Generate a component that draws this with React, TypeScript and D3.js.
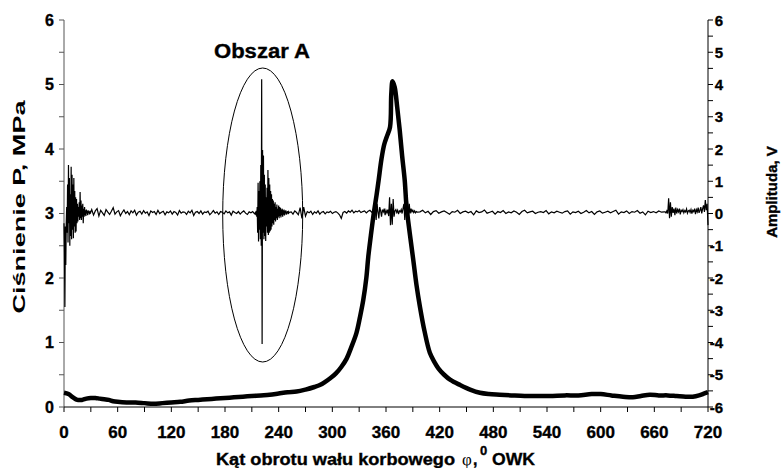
import React from 'react';
import * as d3 from 'd3';

// ---------- data ----------
const xTickLabels = [0, 60, 120, 180, 240, 300, 360, 420, 480, 540, 600, 660, 720];
const leftTickLabels = [0, 1, 2, 3, 4, 5, 6];
const rightTickLabels = [-6, -5, -4, -3, -2, -1, 0, 1, 2, 3, 4, 5, 6];

// Pressure curve (MPa) vs crank angle
const pAngles = [0, 5, 10, 15, 20, 25, 30, 35, 40, 45, 50, 55, 60, 70, 80, 90, 100, 110, 120, 130, 140, 150, 160, 170, 180, 190, 200, 210, 220, 230, 240, 250, 260, 270, 280, 286, 292, 298, 304, 310, 316, 321, 327, 331, 334.6, 338, 340.2, 343, 345.8, 349.6, 351.8, 355, 358, 361.1, 364.5, 365.9, 367.3, 369.7, 372.5, 375.3, 378, 380.9, 383, 386.5, 390.5, 394, 398, 403, 409, 414, 418.5, 425, 432, 443, 454, 465, 475, 487, 500, 515, 530, 543, 560, 575, 590, 600, 612, 625, 636, 645, 655, 665, 675, 685, 695, 703, 710, 716, 720];
const pValues = [0.22, 0.2, 0.15, 0.11, 0.11, 0.13, 0.14, 0.14, 0.13, 0.12, 0.11, 0.09, 0.08, 0.07, 0.07, 0.06, 0.05, 0.06, 0.07, 0.08, 0.1, 0.11, 0.12, 0.13, 0.14, 0.15, 0.16, 0.17, 0.18, 0.19, 0.21, 0.23, 0.24, 0.27, 0.31, 0.34, 0.39, 0.45, 0.52, 0.62, 0.75, 0.92, 1.15, 1.4, 1.66, 2.0, 2.33, 2.65, 2.95, 3.3, 3.52, 3.85, 4.07, 4.2, 4.34, 4.85, 5.05, 4.96, 4.65, 4.3, 3.9, 3.52, 3.1, 2.7, 2.28, 1.9, 1.55, 1.18, 0.84, 0.7, 0.6, 0.5, 0.42, 0.34, 0.27, 0.22, 0.2, 0.19, 0.18, 0.17, 0.17, 0.17, 0.18, 0.18, 0.2, 0.2, 0.18, 0.16, 0.15, 0.17, 0.19, 0.18, 0.18, 0.17, 0.16, 0.16, 0.18, 0.21, 0.23];

// Vibration amplitude (V), given as segments: [start angle, step, values]
const ampSeg0Start = 0, ampSeg0Step = 0.5;
const ampSeg0 = [-0.3, -1.2, -2.9, -0.4, -1.6, -0.3, 0.2, -0.6, 0.9, -0.9, 1.5, -0.3, 1.1, -1.0, 0.6, -0.7, 1.45, -0.8, 1.2, -0.5, 0.9, -0.77, 1.1, -0.4, 0.7, -0.6, 0.5, -0.56, 0.45, -0.3, 0.3, -0.25, 0.2, -0.1, 0.35, -0.2, 0.67, -0.15, 0.4, -0.2, 0.25, -0.1, 0.3, -0.3, 0.15, -0.1, 0.2, -0.05, 0.1, -0.08, 0.12, 0.0, 0.08, -0.05, 0.1, 0.02, 0.06, -0.03, 0.08, 0.0, 0.05];

const ampSeg1Start = 31, ampSeg1Step = 2;
const ampSeg1 = [0.12, -0.05, 0.08, 0.15, -0.08, 0.1, 0.02, -0.06, 0.12, 0.04,
  -0.03, 0.07, 0.18, -0.02, 0.05, 0.09, -0.07, 0.03, 0.11, 0.0,
  0.06, -0.04, 0.08, 0.02, 0.1, -0.05, 0.04, 0.07, -0.02, 0.09,
  0.01, 0.05, -0.06, 0.08, 0.03, 0.06, -0.03, 0.1, 0.0, 0.04,
  0.07, -0.04, 0.05, 0.02, 0.08, -0.02, 0.06, 0.03, -0.05, 0.09,
  0.01, 0.05, 0.04, -0.03, 0.07, 0.02, 0.1, -0.06, 0.04, 0.06,
  0.0, 0.08, -0.02, 0.05, 0.03, 0.07, -0.04, 0.02, 0.09, 0.01,
  0.05, -0.03, 0.06, 0.04, -0.01, 0.08, 0.02, 0.05, -0.05, 0.07,
  0.03, 0.0, 0.06, -0.02, 0.04, 0.08, 0.01, -0.03, 0.05, 0.02,
  0.06, -0.01];

const ampSeg2Start = 214, ampSeg2Step = 0.5;
const ampSeg2 = [0.03, -0.05, 0.08, -0.1, 0.2, -0.6, 0.95, -0.87, 0.7, -0.5,
  1.0, -0.8, 1.5, -1.0, 4.16, -4.05, 1.97, -0.6, 1.8, -0.8,
  1.2, -0.7, 0.9, -0.85, 0.5, -0.4, 0.8, -0.6, 1.35, -0.67,
  1.1, -0.6, 0.9, -0.55, 0.7, -0.5, 0.6, -0.4, 0.45, -0.3,
  0.4, -0.35, 0.3, -0.2, 0.35, -0.25, 0.2, -0.15, 0.28, -0.2,
  0.15, -0.1, 0.25, -0.15, 0.2, -0.08, 0.18, -0.12, 0.12, -0.05,
  0.15, -0.1, 0.1, -0.04, 0.12, -0.06, 0.08, 0.0, 0.1, -0.04,
  0.06, 0.01, 0.07, -0.02, 0.05, 0.02, 0.04];

const ampSeg3Start = 254, ampSeg3Step = 2;
const ampSeg3 = [0.05, -0.02, 0.08, 0.03, -0.04, 0.18, -0.15, 0.2, -0.08, 0.06,
  0.02, 0.07, -0.03, 0.05, 0.01, 0.08, -0.02, 0.04, 0.06, -0.01,
  0.05, 0.03, 0.07, 0.0, 0.04, 0.06, 0.02, -0.04, -0.15, 0.03,
  0.06, 0.01, 0.08, 0.04, 0.1, 0.02, 0.07, 0.05, 0.09, 0.03,
  0.06, 0.08, 0.02, 0.07, 0.1, 0.04];

const ampSeg4Start = 345, ampSeg4Step = 1;
const ampSeg4 = [0.06, 0.12, -0.05, 0.25, -0.2, 0.3, 0.05, -0.15, 0.2, 0.08,
  -0.1, 0.12, 0.05, 0.15, -0.05, 0.1, 0.02, 0.12, -0.08, 0.5,
  -0.36, 0.3, -0.35, 0.45, -0.1, 0.08, 0.12, 0.03, 0.1, -0.02,
  0.08, 0.05, 0.12, 0.0, 0.15, 0.3, -0.2, 0.47, -0.15, 0.4,
  -0.18, 0.3, 0.0, 0.15, 0.05, 0.1, 0.03, 0.08, 0.02, 0.06,
  0.04];

const ampSeg5Start = 398, ampSeg5Step = 3;
const ampSeg5 = [0.05, 0.1, 0.02, 0.07, -0.03, 0.06, 0.09, 0.01, 0.05, 0.08,
  0.03, -0.02, 0.06, 0.04, 0.1, 0.0, 0.05, 0.07, 0.02, 0.06,
  -0.04, 0.08, 0.03, 0.05, 0.11, 0.01, 0.04, 0.07, -0.02, 0.06,
  0.03, 0.09, 0.0, 0.05, 0.02, 0.08, 0.04, -0.03, 0.06, 0.1,
  0.02, 0.05, 0.07, 0.0, 0.04, 0.06, 0.03, 0.09, -0.01, 0.05,
  0.02, 0.07, 0.04, 0.01, 0.06, 0.08, -0.02, 0.05, 0.03, 0.07,
  0.0, 0.04, 0.09, 0.02, 0.06, -0.03, 0.05, 0.08, 0.01, 0.04,
  0.07, 0.02, 0.06, 0.1, -0.02, 0.05, 0.03, 0.08, 0.0, 0.06,
  0.04, 0.09, 0.01, 0.05, -0.04, 0.07, 0.03, 0.06, 0.02, 0.08,
  0.04, 0.05];

const ampSeg6Start = 672, ampSeg6Step = 1;
const ampSeg6 = [0.05, 0.02, 0.08, 0.0, 0.47, -0.15, 0.35, -0.1, 0.2, 0.02,
  0.15, -0.05, 0.18, 0.0, 0.12, 0.05, 0.15, -0.03, 0.1, 0.06,
  0.12, 0.02, 0.09, 0.05, 0.14, 0.01, 0.08, 0.1, 0.03, 0.12,
  0.0, 0.1, 0.06, 0.15, -0.02, 0.12, 0.05, 0.18, 0.02, 0.1,
  0.2, 0.0, 0.15, 0.25, 0.05, 0.42, 0.1, 0.3, -0.36];

const annotationLabel = 'Obszar A';
const xTitle = 'Kąt obrotu wału korbowego';
const leftTitle = 'Ciśnienie P, MPa';
const rightTitle = 'Amplituda, V';

// ---------- build ----------
const W = 783, H = 468;
const PL = 64, PR = 708, PT = 20, PB = 407;

const x = d3.scaleLinear().domain([0, 720]).range([PL, PR]);
const yL = d3.scaleLinear().domain([0, 6]).range([PB, PT]);
const yR = d3.scaleLinear().domain([-6, 6]).range([PB, PT]);

const segs: [number, number, number[]][] = [
  [ampSeg0Start, ampSeg0Step, ampSeg0],
  [ampSeg1Start, ampSeg1Step, ampSeg1],
  [ampSeg2Start, ampSeg2Step, ampSeg2],
  [ampSeg3Start, ampSeg3Step, ampSeg3],
  [ampSeg4Start, ampSeg4Step, ampSeg4],
  [ampSeg5Start, ampSeg5Step, ampSeg5],
  [ampSeg6Start, ampSeg6Step, ampSeg6],
];
const ampPts: [number, number][] = [];
segs.forEach(([s, st, vals]) => vals.forEach((v, i) => ampPts.push([s + i * st, v])));

const pPts: [number, number][] = pAngles.map((a, i) => [a, pValues[i]]);

const ampLine = d3.line<[number, number]>().x(d => x(d[0])).y(d => yR(d[1]));
const pLine = d3.line<[number, number]>().x(d => x(d[0])).y(d => yL(d[1])).curve(d3.curveCatmullRom.alpha(0.5));

const FONT = "'Liberation Sans', Arial, sans-serif";
const BOLD = { fontWeight: 'bold' as const, stroke: '#000', strokeWidth: 0.35 };

export default function App() {
  const xMinor = d3.range(0, 721, 30);
  const lMinor = d3.range(0, 6.01, 0.5);
  const rMinor = d3.range(-6, 6.01, 0.5);
  return (
    <svg width={W} height={H} style={{ position: 'absolute', left: 0, top: 0, background: '#fff' }} fontFamily={FONT}>
      <rect width={W} height={H} fill="#fff" />
      {/* axes */}
      <line x1={PL} x2={PL} y1={PT} y2={PB} stroke="#555" />
      <line x1={PR} x2={PR} y1={PT} y2={PB} stroke="#000" />
      <line x1={PL} x2={PR} y1={PB} y2={PB} stroke="#000" />
      {xMinor.map(t => <line key={'xt' + t} x1={x(t)} x2={x(t)} y1={PB} y2={PB + 5} stroke="#000" />)}
      {lMinor.map(t => <line key={'lt' + t} x1={PL - 5} x2={PL} y1={yL(t)} y2={yL(t)} stroke="#555" />)}
      {rMinor.map(t => <line key={'rt' + t} x1={PR} x2={PR + 5} y1={yR(t)} y2={yR(t)} stroke="#000" />)}
      {xTickLabels.map(t => (
        <text key={'xl' + t} x={x(t)} y={438} textAnchor="middle" fontSize={17} {...BOLD}>{t}</text>
      ))}
      {leftTickLabels.map(t => (
        <text key={'ll' + t} x={54} y={yL(t) + 5.5} textAnchor="end" fontSize={16} {...BOLD}>{t}</text>
      ))}
      {rightTickLabels.map(t => (
        <text key={'rl' + t} x={723} y={yR(t) + 5.5} textAnchor="end" fontSize={15} {...BOLD}>{t}</text>
      ))}
      {/* data */}
      <path d={ampLine(ampPts) || ''} fill="none" stroke="#000" strokeWidth={1.2} />
      <path d={pLine(pPts) || ''} fill="none" stroke="#000" strokeWidth={4.5} strokeLinejoin="round" />
      {/* annotation */}
      <ellipse cx={262.7} cy={215} rx={40} ry={147} fill="none" stroke="#000" strokeWidth={1} />
      <text x={214} y={58} fontSize={20} textLength={96} lengthAdjust="spacingAndGlyphs" {...BOLD}>{annotationLabel}</text>
      {/* titles */}
      <text transform={`translate(25,207) rotate(-90)`} textAnchor="middle" fontSize={16} textLength={213} lengthAdjust="spacingAndGlyphs" fontWeight="bold">{leftTitle}</text>
      <text transform={`translate(777,192) rotate(-90)`} textAnchor="middle" fontSize={15} {...BOLD}>{rightTitle}</text>
      <text x={216} y={465} fontSize={16} textLength={239} lengthAdjust="spacingAndGlyphs" {...BOLD}>{xTitle}</text>
      <text x={462} y={465} fontSize={17} fontFamily="'Liberation Serif', 'Times New Roman', serif">φ</text>
      <text x={473} y={465} fontSize={16} {...BOLD}>,</text>
      <text x={480} y={455} fontSize={13} {...BOLD}>0</text>
      <text x={492} y={465} fontSize={17} textLength={43} lengthAdjust="spacingAndGlyphs" {...BOLD}>OWK</text>
    </svg>
  );
}
